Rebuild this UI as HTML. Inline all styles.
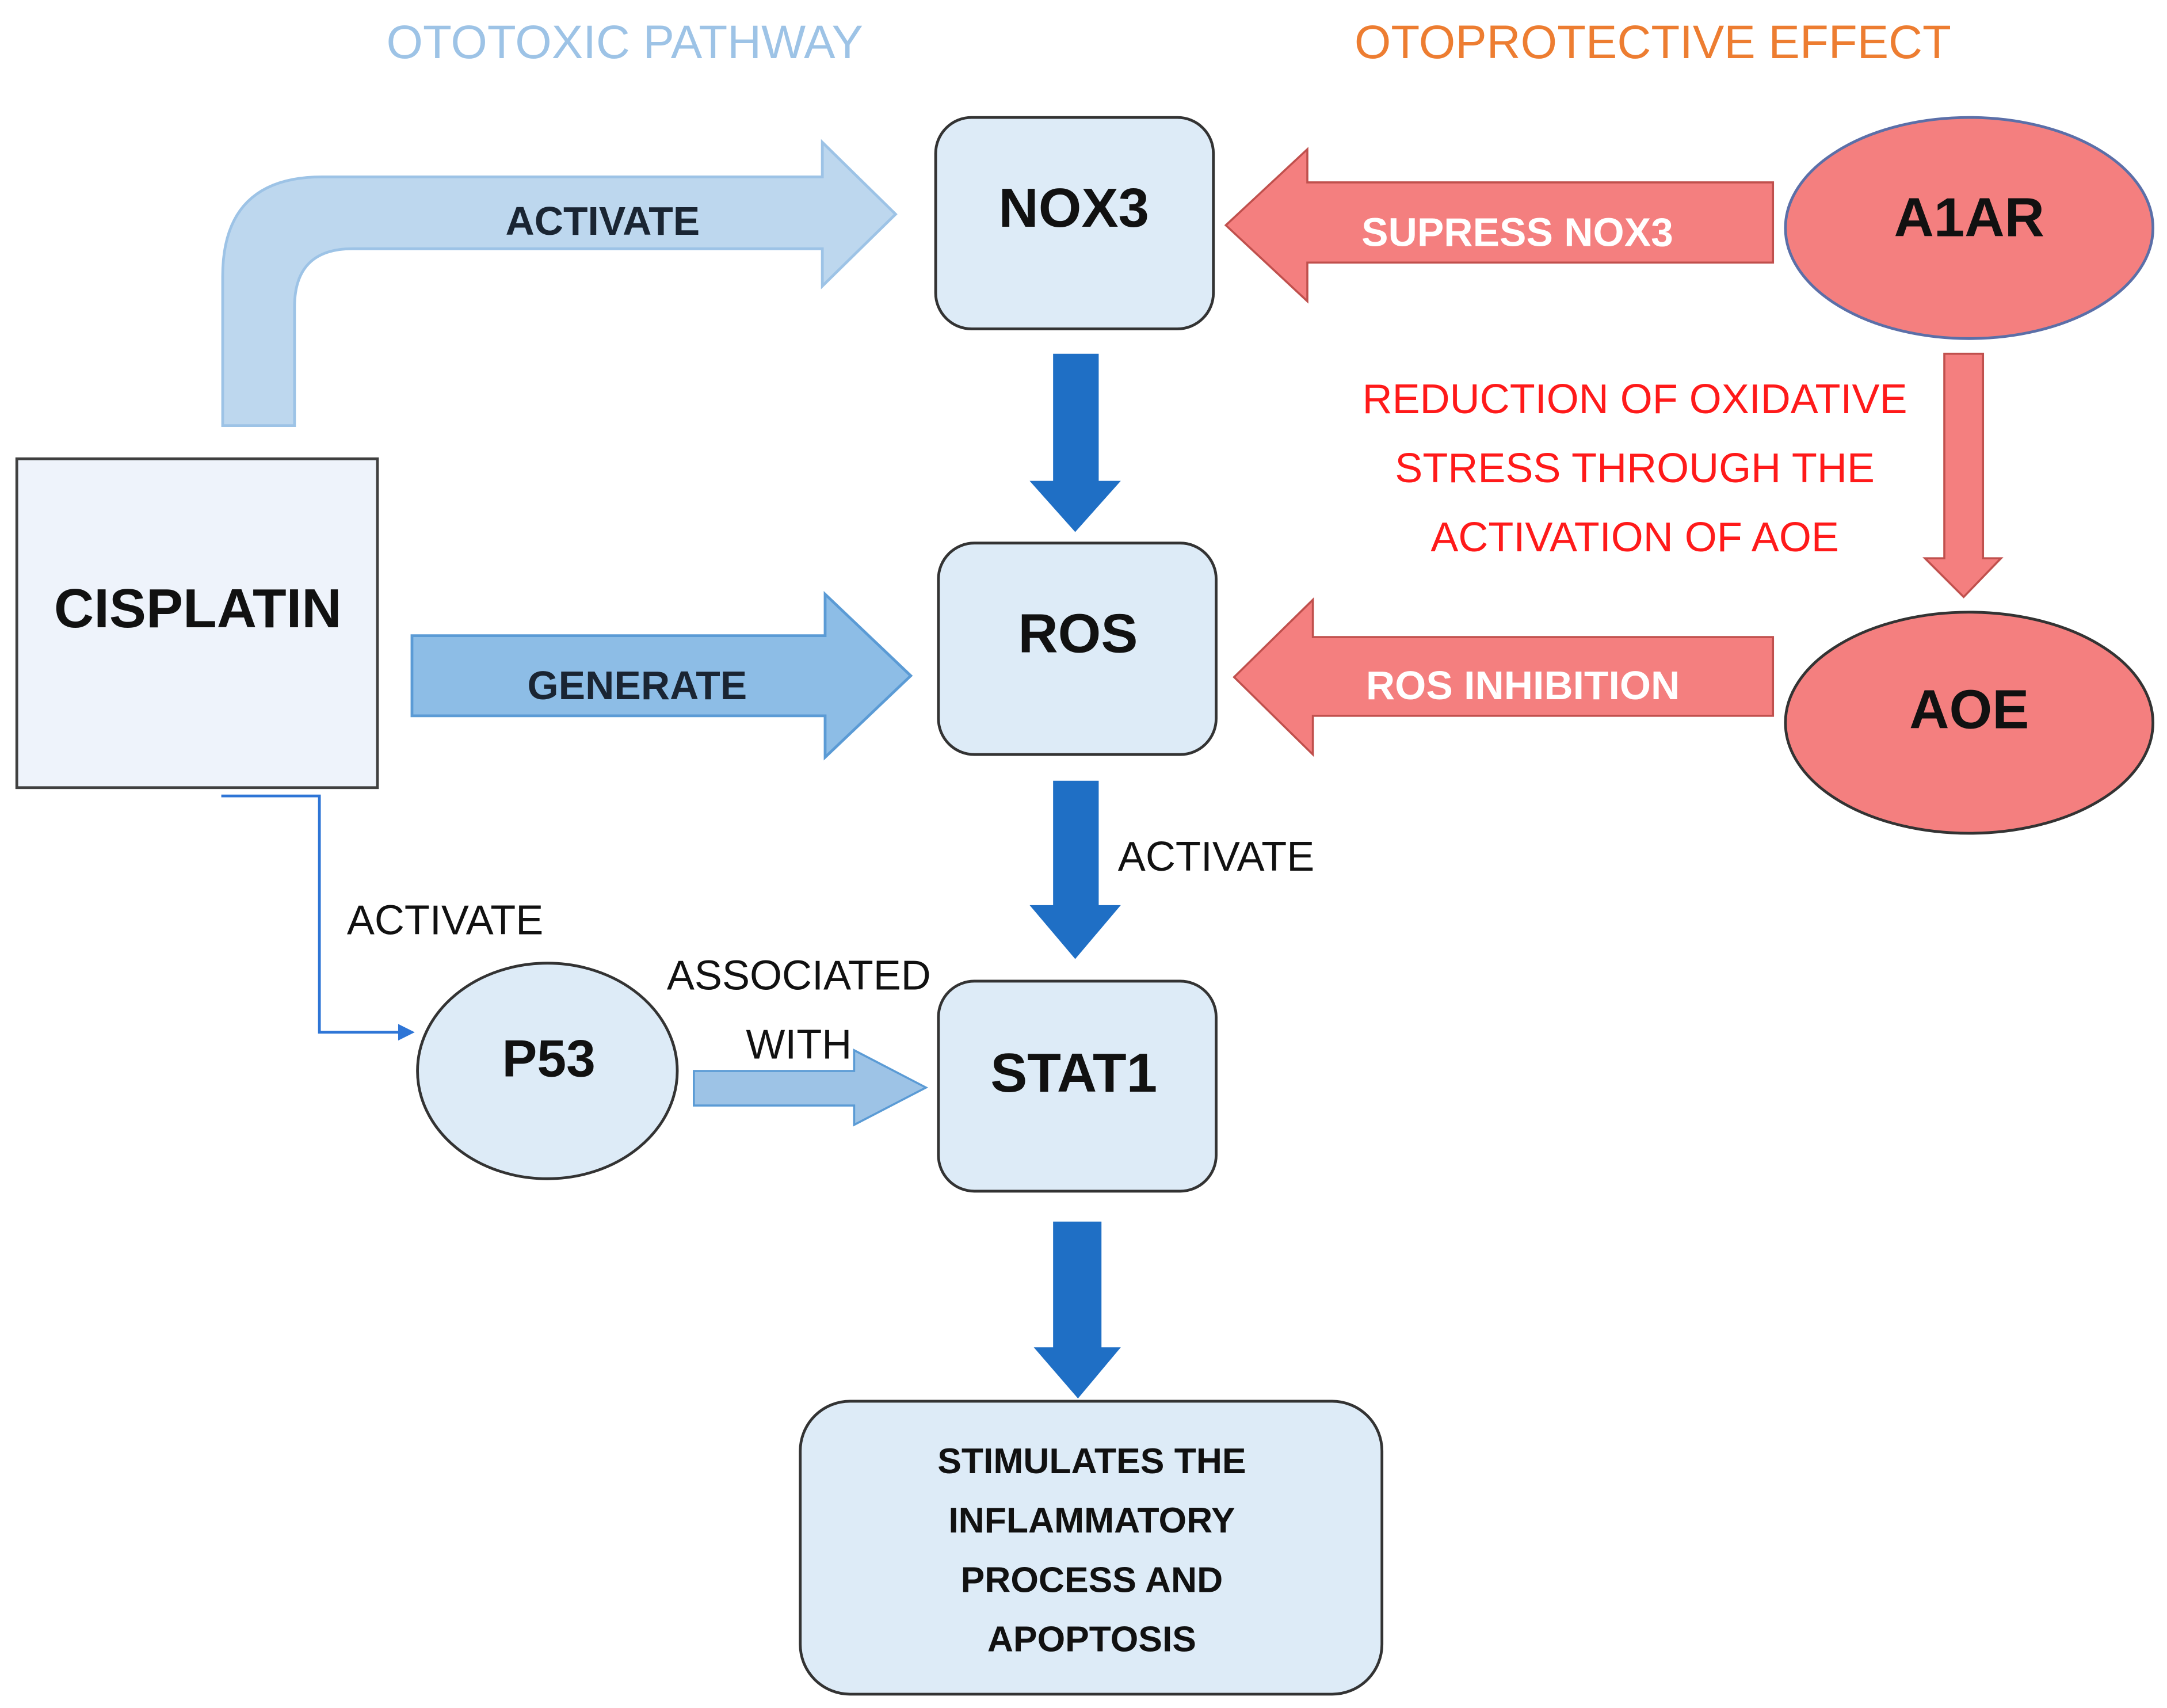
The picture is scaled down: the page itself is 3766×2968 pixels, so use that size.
<!DOCTYPE html>
<html><head><meta charset="utf-8"><style>
html,body{margin:0;padding:0;background:#fff;}
svg{display:block;}
text{font-family:"Liberation Sans",sans-serif;}
</style></head><body>
<svg width="3766" height="2968" viewBox="0 0 1568 1236" xmlns="http://www.w3.org/2000/svg">
<rect width="1568" height="1236" fill="#fff"/>
<text x="452" y="42" font-size="34" fill="#9DC3E6" text-anchor="middle">OTOTOXIC PATHWAY</text>
<text x="1196" y="42" font-size="34" fill="#ED7D31" text-anchor="middle">OTOPROTECTIVE EFFECT</text>

<!-- bent arrow -->
<path d="M161,308 L161,200 Q161,128 233,128 L595,128 L595,103 L648,155 L595,207 L595,180 L255,180 Q213,180 213,222 L213,308 Z" fill="#BDD7EE" stroke="#9DC3E6" stroke-width="2"/>
<text x="436" y="170" font-size="29" font-weight="bold" fill="#1a2533" text-anchor="middle">ACTIVATE</text>

<!-- generate arrow -->
<path d="M298,460 L597,460 L597,430 L659,489 L597,548 L597,518 L298,518 Z" fill="#8DBDE6" stroke="#5B9BD5" stroke-width="2"/>
<text x="461" y="506" font-size="29" font-weight="bold" fill="#1a2533" text-anchor="middle">GENERATE</text>

<!-- cisplatin -->
<rect x="12" y="332" width="261" height="238" fill="#EEF3FB" stroke="#404040" stroke-width="2"/>
<text x="143" y="454" font-size="40" font-weight="bold" fill="#111" text-anchor="middle">CISPLATIN</text>

<!-- boxes -->
<rect x="677" y="85" width="201" height="153" rx="26" fill="#DDEBF7" stroke="#333" stroke-width="2"/>
<text x="777" y="164" font-size="40" font-weight="bold" fill="#111" text-anchor="middle">NOX3</text>
<rect x="679" y="393" width="201" height="153" rx="26" fill="#DDEBF7" stroke="#333" stroke-width="2"/>
<text x="780" y="472" font-size="40" font-weight="bold" fill="#111" text-anchor="middle">ROS</text>
<rect x="679" y="710" width="201" height="152" rx="26" fill="#DDEBF7" stroke="#333" stroke-width="2"/>
<text x="777" y="790" font-size="40" font-weight="bold" fill="#111" text-anchor="middle">STAT1</text>
<rect x="579" y="1014" width="421" height="212" rx="36" fill="#DDEBF7" stroke="#333" stroke-width="2"/>
<g font-size="26" font-weight="bold" fill="#111" text-anchor="middle">
<text x="790" y="1066">STIMULATES THE</text>
<text x="790" y="1109">INFLAMMATORY</text>
<text x="790" y="1152">PROCESS AND</text>
<text x="790" y="1195">APOPTOSIS</text>
</g>

<!-- dark blue arrows -->
<path d="M762,256 L795,256 L795,348 L811,348 L778,385 L745,348 L762,348 Z" fill="#1F6FC5"/>
<path d="M762,565 L795,565 L795,655 L811,655 L778,694 L745,655 L762,655 Z" fill="#1F6FC5"/>
<path d="M762,884 L797,884 L797,975 L811,975 L780,1012 L748,975 L762,975 Z" fill="#1F6FC5"/>
<text x="880" y="630" font-size="30" fill="#111" text-anchor="middle">ACTIVATE</text>

<!-- pink arrows -->
<path d="M1283,132 L946,132 L946,108 L887,163 L946,218 L946,190 L1283,190 Z" fill="#F47F7F" stroke="#C0504D" stroke-width="1.5"/>
<text x="1098" y="178" font-size="29" font-weight="bold" fill="#fff" text-anchor="middle">SUPRESS NOX3</text>
<path d="M1283,461 L950,461 L950,434 L893,490 L950,546 L950,518 L1283,518 Z" fill="#F47F7F" stroke="#C0504D" stroke-width="1.5"/>
<text x="1102" y="506" font-size="29" font-weight="bold" fill="#fff" text-anchor="middle">ROS INHIBITION</text>
<path d="M1407,256 L1435,256 L1435,404 L1448,404 L1421,432 L1393,404 L1407,404 Z" fill="#F47F7F" stroke="#C0504D" stroke-width="1.5"/>

<g font-size="30" fill="#FF1A1A" text-anchor="middle">
<text x="1183" y="299">REDUCTION OF OXIDATIVE</text>
<text x="1183" y="349">STRESS THROUGH THE</text>
<text x="1183" y="399">ACTIVATION OF AOE</text>
</g>

<!-- ellipses -->
<ellipse cx="1425" cy="165" rx="133" ry="80" fill="#F47F7F" stroke="#5B6FA8" stroke-width="2"/>
<text x="1425" y="171" font-size="40" font-weight="bold" fill="#111" text-anchor="middle">A1AR</text>
<ellipse cx="1425" cy="523" rx="133" ry="80" fill="#F47F7F" stroke="#333" stroke-width="2"/>
<text x="1425" y="527" font-size="40" font-weight="bold" fill="#111" text-anchor="middle">AOE</text>
<ellipse cx="396" cy="775" rx="94" ry="78" fill="#DDEBF7" stroke="#333" stroke-width="2"/>
<text x="397" y="779" font-size="38" font-weight="bold" fill="#111" text-anchor="middle">P53</text>

<!-- p53 -> stat1 -->
<path d="M502,775 L618,775 L618,760 L670,787 L618,814 L618,800 L502,800 Z" fill="#9DC3E6" stroke="#5B9BD5" stroke-width="1.5"/>
<text x="578" y="716" font-size="30" fill="#111" text-anchor="middle">ASSOCIATED</text>
<text x="578" y="766" font-size="30" fill="#111" text-anchor="middle">WITH</text>

<!-- thin connector -->
<path d="M160,576 L231,576 L231,747 L290,747" fill="none" stroke="#2E75D6" stroke-width="2"/>
<path d="M300,747 L288,741 L288,753 Z" fill="#2E75D6"/>
<text x="322" y="676" font-size="30" fill="#111" text-anchor="middle">ACTIVATE</text>
</svg>
</body></html>
